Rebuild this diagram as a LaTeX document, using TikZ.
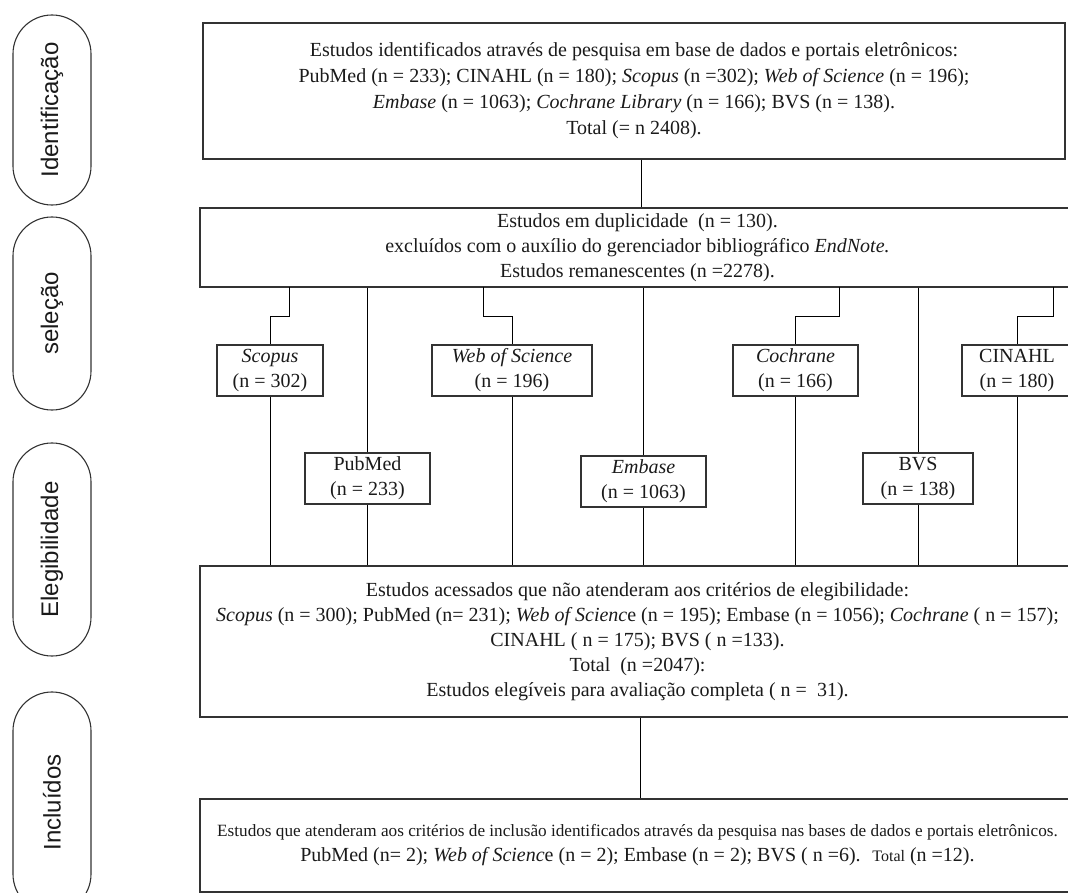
\documentclass[tikz,border=0pt]{standalone}
\usepackage{fontspec}
\setmainfont{Liberation Serif}
\newfontfamily\pillfont{Liberation Sans}
\definecolor{edge}{HTML}{333333}
\definecolor{ink}{HTML}{1A1A1A}
\begin{document}
\begin{tikzpicture}[x=1pt,y=-1pt,
  bigbox/.style={draw=edge, line width=1.3pt, align=center, inner sep=0pt, text=ink,
    font=\fontsize{20}{25}\selectfont},
  smallbox/.style={draw=edge, line width=1.2pt, align=center, inner sep=0pt, text=ink,
    minimum height=51pt, font=\fontsize{20}{25}\selectfont},
  pill/.style={draw=edge, line width=1.1pt, rounded corners=38.9pt, rotate=90,
    minimum height=78pt, inner sep=0pt, text=ink, font=\pillfont\fontsize{24}{28}\selectfont},
  conn/.style={draw=black, line width=1pt}
]
\useasboundingbox (0,0) rectangle (1068,893);
\clip (0,0) rectangle (1068,893);

% stage pills
\node[pill, minimum width=190pt] (p1) at (52,110) {Identificação};
\node[pill, minimum width=193pt] (p2) at (52,313.5) {seleção};
\node[pill, minimum width=213pt] (p3) at (52,549.5) {Elegibilidade};
\node[pill, minimum width=221pt] (p4) at (52,802.5) {Incluídos};

% main boxes
\node[bigbox, minimum width=862pt, minimum height=136pt, font=\fontsize{20}{26}\selectfont] (b1) at (634,91)
  {Estudos identificados através de pesquisa em base de dados e portais eletrônicos:\\
   PubMed (n = 233); CINAHL (n = 180); \textit{Scopus} (n =302); \textit{Web of Science} (n = 196);\\
   \textit{Embase} (n = 1063); \textit{Cochrane Library} (n = 166); BVS (n = 138).\\
   Total (= n 2408).};
\node[bigbox, minimum width=875pt, minimum height=79pt] (b2) at (637.5,247.5)
  {Estudos em duplicidade~ (n = 130).\\
   excluídos com o auxílio do gerenciador bibliográfico \textit{EndNote.}\\
   Estudos remanescentes (n =2278).};
\node[bigbox, minimum width=875pt, minimum height=151pt] (b3) at (637.5,641.5)
  {Estudos acessados que não atenderam aos critérios de elegibilidade:\\
   \textit{Scopus} (n = 300); PubMed (n= 231); \textit{Web of Scienc}e (n = 195); Embase (n = 1056); \textit{Cochrane} ( n = 157);\\
   CINAHL ( n = 175); BVS ( n =133).\\
   Total~ (n =2047):\\
   Estudos elegíveis para avaliação completa ( n = ~31).};
\node[bigbox, minimum width=875pt, minimum height=93pt] (b4) at (637.5,845.5)
  {{\fontsize{17.2}{21}\selectfont Estudos que atenderam aos critérios de inclusão identificados através da pesquisa nas bases de dados e portais eletrônicos.}\\
   PubMed (n= 2); \textit{Web of Scienc}e (n = 2); Embase (n = 2); BVS ( n =6).~ {\fontsize{16}{20}\selectfont Total} (n =12).};

% database boxes
\node[smallbox, minimum width=106pt] (scopus) at (270,370.5) {\textit{Scopus}\\(n = 302)};
\node[smallbox, minimum width=160pt] (wos) at (512,370.5) {\textit{Web of Science}\\(n = 196)};
\node[smallbox, minimum width=125pt] (coch) at (795.5,370.5) {\textit{Cochrane}\\(n = 166)};
\node[smallbox, minimum width=110pt] (cin) at (1017,370.5) {CINAHL\\(n = 180)};
\node[smallbox, minimum width=125pt] (pub) at (367.5,478.5) {PubMed\\(n = 233)};
\node[smallbox, minimum width=125pt] (emb) at (643.5,481.5) {\textit{Embase}\\(n = 1063)};
\node[smallbox, minimum width=110pt] (bvs) at (918,478.5) {BVS\\(n = 138)};

% anchor coordinates on box edges
\coordinate (x641) at (641,0);
\coordinate (x640) at (640,0);
\coordinate (sS) at (289,287);
\coordinate (sW) at (483,287);
\coordinate (sC) at (839,287);
\coordinate (sN) at (1053,287);

% connectors
\draw[conn] (b1.south -| x641) -- (b2.north -| x641);
\draw[conn] (sS) -- ++(0,29) -| (scopus.north);
\draw[conn] (sW) -- ++(0,29) -| (wos.north);
\draw[conn] (sC) -- ++(0,29) -| (coch.north);
\draw[conn] (sN) -- ++(0,29) -| (cin.north);
\draw[conn] (b2.south -| pub.north) -- (pub.north);
\draw[conn] (b2.south -| emb.north) -- (emb.north);
\draw[conn] (b2.south -| bvs.north) -- (bvs.north);
\draw[conn] (scopus.south) -- (scopus.south |- b3.north);
\draw[conn] (wos.south) -- (wos.south |- b3.north);
\draw[conn] (coch.south) -- (coch.south |- b3.north);
\draw[conn] (cin.south) -- (cin.south |- b3.north);
\draw[conn] (pub.south) -- (pub.south |- b3.north);
\draw[conn] (emb.south) -- (emb.south |- b3.north);
\draw[conn] (bvs.south) -- (bvs.south |- b3.north);
\draw[conn] (b3.south -| x640) -- (b4.north -| x640);
\end{tikzpicture}
\end{document}
